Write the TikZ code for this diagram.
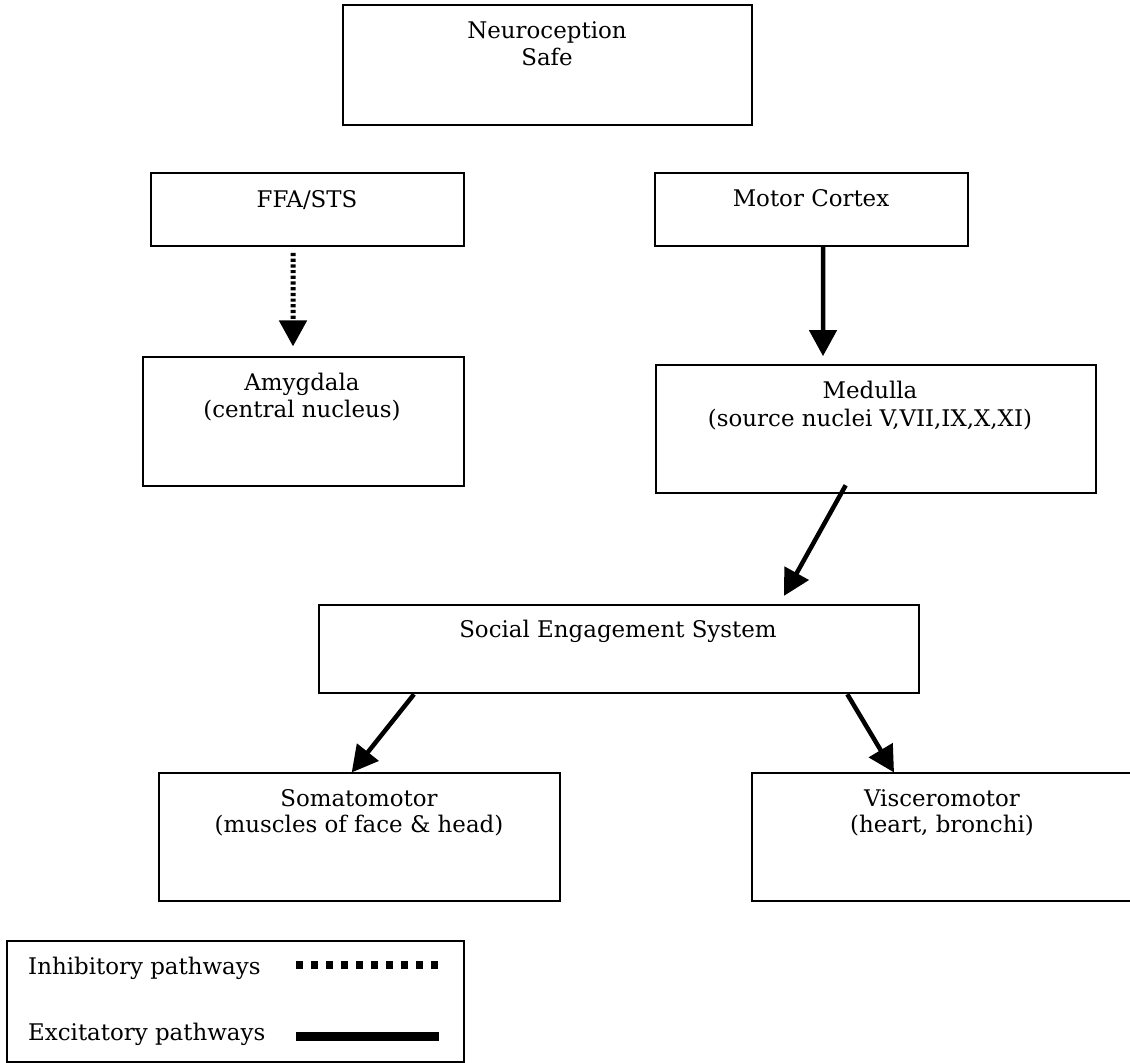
\documentclass[tikz,border=0pt]{standalone}
\usepackage{fontspec}
\setmainfont{DejaVu Serif}
\usetikzlibrary{arrows.meta}
\begin{document}
\begin{tikzpicture}[x=1bp,y=-1bp,
  box/.style={draw,line width=1.8bp,rectangle,inner sep=0pt},
  lbl/.style={anchor=base,inner sep=0pt,font=\fontsize{23}{27}\selectfont},
  lgd/.style={anchor=base west,inner sep=0pt,font=\fontsize{23}{27}\selectfont},
  excit/.style={line width=4.5bp,-{Triangle[length=26bp,width=27bp]}},
  inhib/.style={line width=5bp,dash pattern=on 3.2bp off 2.5bp,-{Triangle[length=26bp,width=27bp]}}]
\fill[white] (0,0) rectangle (1130,1063);
\useasboundingbox (0,0) rectangle (1130,1063);

% boxes
\node[box,minimum width=409bp,minimum height=120bp] (neuro) at (547.5,65) {};
\node[box,minimum width=312.7bp,minimum height=73bp] (ffa) at (307.3,209.5) {};
\node[box,minimum width=313bp,minimum height=73bp] (motor) at (811.5,209.5) {};
\node[box,minimum width=320.4bp,minimum height=128.4bp] (amyg) at (303.5,421.5) {};
\node[box,minimum width=440bp,minimum height=128.3bp] (medulla) at (875.6,429.2) {};
\node[box,minimum width=600.3bp,minimum height=88.3bp] (ses) at (619.2,649.2) {};
\node[box,minimum width=401bp,minimum height=127.7bp] (soma) at (359.5,837.2) {};
\node[box,minimum width=382.3bp,minimum height=127.7bp] (visc) at (942.85,837.2) {};
\node[box,minimum width=456.4bp,minimum height=121bp] (legend) at (235.5,1001.5) {};

% texts
\node[lbl] (neuroA) at (547,38.3) {Neuroception};
\node[lbl] (neuroB) at (547,65.7) {Safe};
\node[lbl] (ffaT) at (307,207.3) {FFA/STS};
\node[lbl] (motorT) at (811,206) {Motor Cortex};
\node[lbl] (amygA) at (302,390.7) {Amygdala};
\node[lbl] (amygB) at (302,417.5) {(central nucleus)};
\node[lbl] (medA) at (870,398.3) {Medulla};
\node[lbl] (medB) at (870,426.7) {(source nuclei V,VII,IX,X,XI)};
\node[lbl] (sesT) at (618,637.7) {Social Engagement System};
\node[lbl] (somaA) at (359,806) {Somatomotor};
\node[lbl] (somaB) at (359,832.7) {(muscles of face \& head)};
\node[lbl] (viscA) at (942,806) {Visceromotor};
\node[lbl] (viscB) at (942,832.7) {(heart, bronchi)};
\node[lgd] (inhT) at (28,974.3) {Inhibitory pathways};
\node[lgd] (excT) at (28,1040) {Excitatory pathways};

% connectors
\draw[inhib] ([xshift=-14.3bp,yshift=-6bp]ffa.south) -- ([xshift=-10.5bp,yshift=10bp]amyg.north);
\draw[excit] ([xshift=11.5bp]motor.south) -- ([xshift=-52.6bp,yshift=8bp]medulla.north);
\draw[excit] ([xshift=-29.9bp,yshift=9bp]medulla.south) -- ([xshift=164.8bp,yshift=8.3bp]ses.north);
\draw[excit] ([xshift=-205.2bp]ses.south) -- ([xshift=-7.8bp]soma.north);
\draw[excit] ([xshift=228.1bp]ses.south) -- ([xshift=-48.85bp]visc.north);

% legend samples
\coordinate (inhS) at (296,965.2);
\coordinate (inhE) at (438,965.2);
\coordinate (excS) at (296,1036.7);
\coordinate (excE) at (439,1036.7);
\draw[line width=8.3bp,dash pattern=on 7bp off 8bp] (inhS) -- (inhE);
\draw[line width=8.7bp] (excS) -- (excE);
\end{tikzpicture}
\end{document}
